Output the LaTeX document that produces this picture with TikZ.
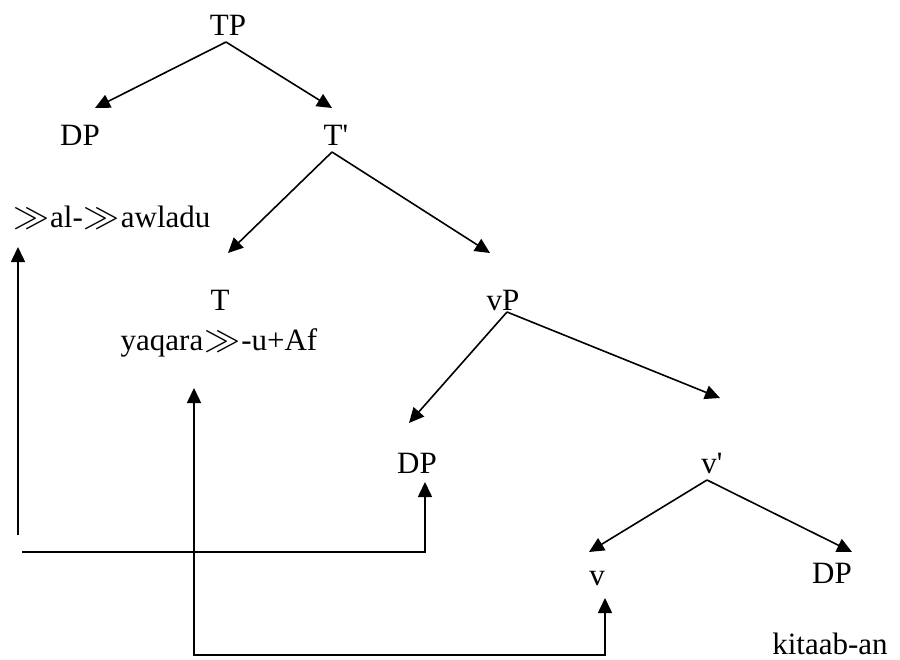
\documentclass[tikz,border=0pt]{standalone}
\usepackage{fontspec}
\setmainfont{Liberation Serif}
\usepackage{graphicx}
\usetikzlibrary{arrows.meta}
\newcommand{\ggsym}{\hspace{1pt}\resizebox{36pt}{19pt}{$\gg$}\hspace{1pt}}
\begin{document}
\begin{tikzpicture}[x=1pt,y=-1pt,
  lab/.style={anchor=base, inner sep=0pt, font=\fontsize{31}{36}\selectfont},
  br/.style={line width=1.6pt, -{Triangle[length=15pt,width=14pt]}},
  mv/.style={line width=1.6pt, line join=miter}]
\useasboundingbox (0,0) rectangle (900,659);
% labels
\node[lab] (TP) at (228,35) {TP};
\node[lab] (DPa) at (80,145) {DP};
\node[lab] (Tbar) at (336,145) {T\textquotesingle};
\node[lab, anchor=base west] (awl) at (12,227) {\ggsym al-\ggsym awladu};
\node[lab] (T) at (220,310) {T};
\node[lab] (yaq) at (219,350) {yaqara\ggsym-u+Af};
\node[lab] (vP) at (503,310) {vP};
\node[lab] (DPb) at (417,473) {DP};
\node[lab] (vbar) at (712,473) {v\textquotesingle};
\node[lab] (v) at (597,585) {v};
\node[lab] (DPc) at (832,583) {DP};
\node[lab] (kit) at (830,654) {kitaab-an};
% branch points
\coordinate (TPa) at (226,42);
\coordinate (DPat) at (95,108);
\coordinate (Tbart) at (332,108);
\coordinate (Tbara) at (332,152);
\coordinate (Tt) at (228,253);
\coordinate (vPt) at (490,253);
\coordinate (vPa) at (507,312);
\coordinate (DPbt) at (409,423);
\coordinate (vbart) at (720,398);
\coordinate (vbara) at (707,480);
\coordinate (vt) at (589,552);
\coordinate (DPct) at (852,552);
% tree branches
\draw[br] (TPa) -- (DPat);
\draw[br] (TPa) -- (Tbart);
\draw[br] (Tbara) -- (Tt);
\draw[br] (Tbara) -- (vPt);
\draw[br] (vPa) -- (DPbt);
\draw[br] (vPa) -- (vbart);
\draw[br] (vbara) -- (vt);
\draw[br] (vbara) -- (DPct);
% movement lines
\coordinate (m1s) at (18,535);
\coordinate (m1e) at (18,247);
\coordinate (m2s) at (22,552);
\coordinate (m2c) at (425,552);
\coordinate (m2e) at (425,482);
\coordinate (m3a) at (194,388);
\coordinate (m3c) at (194,655);
\coordinate (m3d) at (605,655);
\coordinate (m3e) at (605,598);
\draw[br] (m1s) -- (m1e);
\draw[br, mv] (m2s) -- (m2c) -- (m2e);
\draw[mv, {Triangle[length=15pt,width=14pt]}-{Triangle[length=15pt,width=14pt]}] (m3a) -- (m3c) -- (m3d) -- (m3e);
\end{tikzpicture}
\end{document}
